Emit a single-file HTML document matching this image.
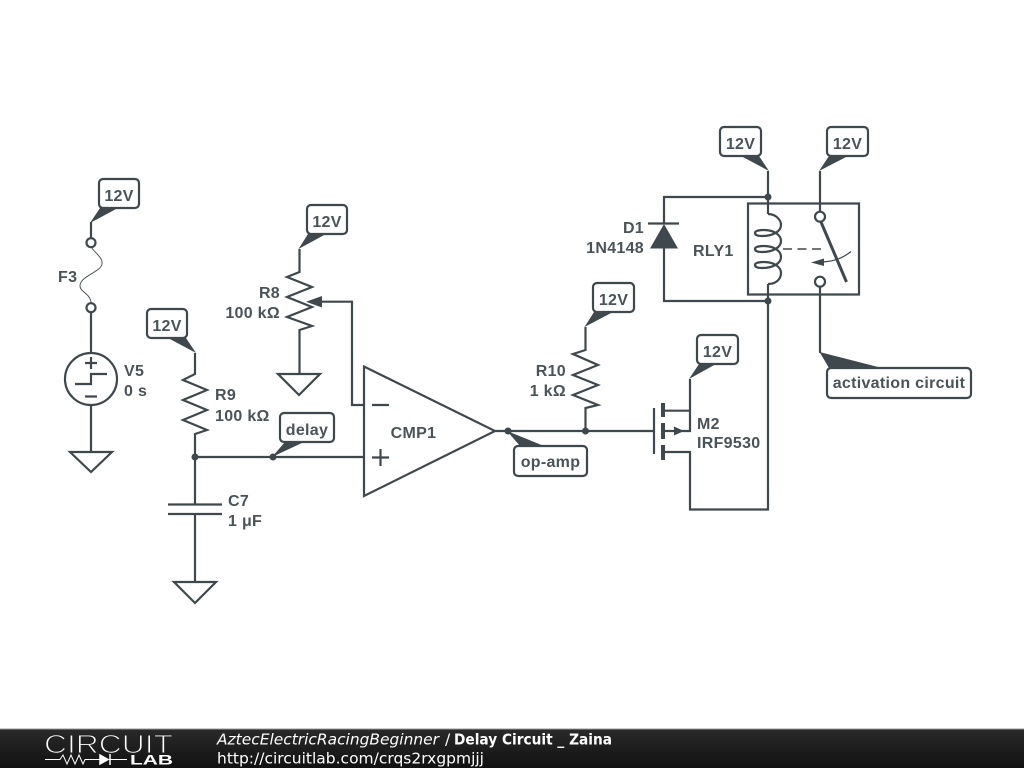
<!DOCTYPE html>
<html><head><meta charset="utf-8"><style>
html,body{margin:0;padding:0;background:#fff}
svg{display:block}
.w{fill:none;stroke:#3f484c;stroke-width:2.2;stroke-linejoin:miter}
.f{fill:#3f484c;stroke:none}
.b{fill:#fff;stroke:#3f484c;stroke-width:2.200}
.t{font-family:"Liberation Sans",sans-serif;font-size:16px;font-weight:bold;letter-spacing:.3px;fill:#4a5357}
.m{text-anchor:middle}.e{text-anchor:end}
.ft{font-family:"DejaVu Sans",sans-serif;font-size:15.5px;fill:#fff}
</style></head><body>
<svg width="1024" height="768" viewBox="0 0 1024 768" xmlns="http://www.w3.org/2000/svg">
<defs><linearGradient id="g" x1="0" y1="0" x2="0" y2="1"><stop offset="0" stop-color="#2a2a2a"/><stop offset="1" stop-color="#111"/></linearGradient></defs>
<rect width="1024" height="768" fill="#fff"/>

<!-- wires: F3 / V5 -->
<path class="w" d="M91 222V238M91 312V353M91 405V452"/>
<path d="M91 247C97 255 103 258 102 264C101 272 80 276 80 286C80 292 91 294 91 303" fill="none" stroke="#4a5357" stroke-width="1"/>
<circle class="b" cx="91" cy="242.700" r="4.500"/><circle class="b" cx="91" cy="307.700" r="4.500"/>
<circle class="w" cx="91" cy="379" r="26"/>
<path class="w" d="M85 363H97M91 357V369M85 396.500H97M75 384H91V374H107"/>
<path class="w" d="M70 452H112L91 472Z"/>

<!-- R9 C7 -->
<path class="w" d="M195 353V374L183 380L207 390L183 400L207 410L183 420L207 430L195 434V504M195 514V582"/>
<path class="w" d="M195 457H364"/>
<path class="w" d="M168 504.500H222M168 514H222"/>
<path class="w" d="M174 582H216L195 603Z"/>
<circle class="f" cx="195" cy="457" r="3.500"/><circle class="f" cx="273" cy="457" r="3.500"/>

<!-- R8 -->
<path class="w" d="M299.500 249V272L287 277L312 287L287 297L312 307L287 317L312 326L299.500 330V374"/>
<path class="w" d="M278 374H320L299 395Z"/>
<path class="w" d="M320 301.700H352V405H364"/>
<path class="f" d="M306 301.700L322 296V307.500Z"/>

<!-- CMP1 -->
<path class="w" d="M364 366.500V496L495 431Z"/>
<path class="w" d="M372 405H389M372 457.500H389M380.500 449V466"/>
<path class="w" d="M495 431H654"/>
<circle class="f" cx="508" cy="431" r="3.500"/><circle class="f" cx="585.500" cy="431" r="3.500"/>

<!-- R10 -->
<path class="w" d="M585.500 327V350L573 354L598 365L573 375L598 385L573 395L598 405L585.500 408V431"/>

<!-- M2 -->
<path class="w" d="M654 408V454"/>
<path d="M663 403V417M663 423V439M663 445V460" fill="none" stroke="#3f484c" stroke-width="4"/>
<path class="w" d="M690 379V431H663M663 410.700H690M663 452H690V509.500H768V301"/>
<path class="f" d="M684 431L674 426.500V435.500Z"/>

<!-- diode -->
<path class="w" d="M768 171V214M768 284V301H664V248M664 224V197H768M648 223.500H679"/>
<path class="f" d="M664 224L678 248.500H650Z"/>
<circle class="f" cx="768" cy="197" r="3.500"/><circle class="f" cx="768" cy="301" r="3.500"/>

<!-- relay -->
<path class="w" d="M748 203.500H859V294.500H748Z"/>
<path class="w" d="M768 214C776 214 781 220 781 225C781 232 772 236 762 236C757 236 755 234.500 755 233C755 231 759 230 764 230C774 230 781 235 781 241C781 248 772 252 762 252C757 252 755 250.500 755 249C755 247 759 246 764 246C774 246 781 251 781 257C781 264 772 268 762 268C757 268 755 266.500 755 265C755 263 759 262 764 262C774 262 781 267 781 273C781 280 775 284 768 284"/>
<path d="M783 249H825" fill="none" stroke="#3f484c" stroke-width="1.500" stroke-dasharray="9 5.500"/>
<path d="M821 222L846.500 282" fill="none" stroke="#3f484c" stroke-width="3"/>
<path d="M851 251.500C842 259 832 262 820 262" fill="none" stroke="#3f484c" stroke-width="1.200"/>
<path class="f" d="M811 262.500L824 258.500V266Z"/>
<path class="w" d="M820 171V212M820 287V353"/>
<circle class="b" cx="820" cy="216.700" r="5"/><circle class="b" cx="820" cy="281.700" r="5"/>

<!-- tags -->
<rect class="b" x="99" y="179" width="40" height="29" rx="4"/>
<path class="f" d="M90 223L100 208H118Z"/>
<rect class="b" x="307" y="205" width="40" height="29" rx="4"/>
<path class="f" d="M298.500 249L308 234H326Z"/>
<rect class="b" x="147" y="309" width="40" height="29" rx="4"/>
<path class="f" d="M196 353L186 338H168Z"/>
<rect class="b" x="280" y="413" width="54" height="29" rx="4"/>
<path class="f" d="M272 457L285 442H304Z"/>
<rect class="b" x="514" y="446" width="73" height="30" rx="4"/>
<path class="f" d="M507 431L520 446H544Z"/>
<rect class="b" x="593" y="283" width="41" height="29" rx="4"/>
<path class="f" d="M584.500 327L594 312H613Z"/>
<rect class="b" x="697" y="335" width="41" height="29" rx="4"/>
<path class="f" d="M689 379L699 364H716Z"/>
<rect class="b" x="720" y="127" width="41" height="29" rx="4"/>
<path class="f" d="M769 171L759 156H741Z"/>
<rect class="b" x="827" y="127" width="41" height="29" rx="4"/>
<path class="f" d="M819 171L829 156H848Z"/>
<rect class="b" x="827" y="368" width="144" height="30" rx="4"/>
<path class="f" d="M819.500 352L829 368H882Z"/>

<!-- labels -->
<text class="t m" x="119" y="201">12V</text>
<text class="t m" x="327" y="227">12V</text>
<text class="t m" x="167" y="331">12V</text>
<text class="t m" x="307" y="435">delay</text>
<text class="t m" x="550.500" y="467">op-amp</text>
<text class="t m" x="613.500" y="305">12V</text>
<text class="t m" x="717.500" y="357">12V</text>
<text class="t m" x="740.500" y="149">12V</text>
<text class="t m" x="847.500" y="149">12V</text>
<text class="t m" x="899" y="388">activation circuit</text>
<text class="t" x="58" y="282">F3</text>
<text class="t" x="124" y="376">V5</text>
<text class="t" x="124" y="396">0 s</text>
<text class="t" x="215" y="400">R9</text>
<text class="t" x="215" y="421">100 kΩ</text>
<text class="t e" x="280" y="298">R8</text>
<text class="t e" x="280" y="318">100 kΩ</text>
<text class="t" x="228" y="506">C7</text>
<text class="t" x="228" y="526">1 μF</text>
<text class="t m" x="413.500" y="438">CMP1</text>
<text class="t e" x="566" y="376">R10</text>
<text class="t e" x="566" y="396">1 kΩ</text>
<text class="t" x="697" y="429">M2</text>
<text class="t" x="697" y="448">IRF9530</text>
<text class="t e" x="644" y="233">D1</text>
<text class="t e" x="644" y="253">1N4148</text>
<text class="t" x="693" y="256">RLY1</text>

<!-- footer -->
<rect x="0" y="729" width="1024" height="39" fill="url(#g)"/>
<rect x="0" y="728.500" width="1024" height="1" fill="#999"/>
<text x="44" y="753" font-family="Liberation Sans,sans-serif" font-size="26" textLength="129" lengthAdjust="spacingAndGlyphs" fill="#fff" stroke="#232323" stroke-width="1.100">CIRCUIT</text>
<path d="M45 759.500H60L63 755L67 764L71 755L75 764L79 755L83 764L85 759.500H127" fill="none" stroke="#fff" stroke-width="1"/>
<path d="M100 755L108 759.500L100 764ZM110 754V765" fill="#fff" stroke="#fff" stroke-width="1.500"/>
<text x="130" y="764.500" font-family="Liberation Sans,sans-serif" font-weight="bold" font-size="14" textLength="43" lengthAdjust="spacingAndGlyphs" fill="#fff">LAB</text>
<text class="ft" x="217" y="744.500" font-style="italic" textLength="222" lengthAdjust="spacingAndGlyphs">AztecElectricRacingBeginner</text>
<text class="ft" x="445" y="744.500">/</text>
<text class="ft" x="454" y="744.500" font-weight="bold" textLength="158" lengthAdjust="spacingAndGlyphs">Delay Circuit _ Zaina</text>
<text class="ft" x="217" y="763.500" textLength="267" lengthAdjust="spacingAndGlyphs">http://circuitlab.com/crqs2rxgpmjjj</text>
</svg>
</body></html>
